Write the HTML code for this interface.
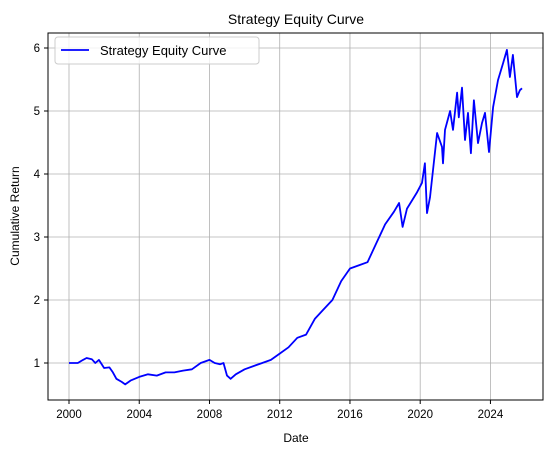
<!DOCTYPE html>
<html><head><meta charset="utf-8"><style>
body{margin:0;background:#fff;}
svg{display:block;font-family:"Liberation Sans","DejaVu Sans",sans-serif;}
</style></head><body>
<svg id="chart" width="554" height="455">
<g id="grid"></g>
<g id="ticks"></g>
<path id="line" fill="none" stroke="#0000ff" stroke-width="1.8" stroke-linejoin="round"></path>
<rect x="48" y="33" width="495" height="367" fill="none" stroke="#000" stroke-width="1"></rect>
<text x="296" y="24" text-anchor="middle" font-size="14">Strategy Equity Curve</text>
<text x="296" y="442" text-anchor="middle" font-size="12">Date</text>
<text transform="translate(19,216) rotate(-90)" text-anchor="middle" font-size="12">Cumulative Return</text>
<g>
<rect x="55" y="37" width="204" height="27" rx="3" fill="#fff" fill-opacity="0.8" stroke="#ccc"></rect>
<line x1="61" y1="50" x2="89" y2="50" stroke="#0000ff" stroke-width="1.8"></line>
<text x="100" y="55" font-size="13">Strategy Equity Curve</text>
</g>
</svg>
<script>
const years=[2000,2000.5,2000.8,2001,2001.3,2001.5,2001.7,2002,2002.3,2002.5,2002.7,2003,2003.2,2003.5,2004,2004.5,2005,2005.5,2006,2006.5,2007,2007.5,2008,2008.3,2008.6,2008.8,2009,2009.2,2009.5,2010,2010.5,2011,2011.5,2012,2012.5,2013,2013.5,2014,2014.5,2015,2015.5,2016,2016.5,2017,2017.5,2018,2018.5,2018.8,2019,2019.25,2019.8,2020.1,2020.27,2020.39,2020.56,2020.73,2020.96,2021.24,2021.3,2021.41,2021.7,2021.87,2022.1,2022.2,2022.38,2022.55,2022.72,2022.89,2023.06,2023.29,2023.52,2023.69,2023.92,2024.15,2024.43,2024.72,2024.94,2025.11,2025.28,2025.51,2025.68,2025.8];
const values=[1,1,1.05,1.08,1.06,1,1.05,0.92,0.93,0.85,0.75,0.7,0.66,0.72,0.78,0.82,0.8,0.85,0.85,0.88,0.9,1,1.05,1,0.98,1,0.8,0.75,0.82,0.9,0.95,1,1.05,1.15,1.25,1.4,1.45,1.7,1.85,2,2.3,2.5,2.55,2.6,2.9,3.2,3.4,3.54,3.16,3.45,3.7,3.86,4.17,3.38,3.63,4.06,4.65,4.43,4.17,4.7,5.0,4.7,5.29,4.9,5.37,4.54,4.97,4.33,5.17,4.49,4.81,4.97,4.35,5.06,5.49,5.76,5.97,5.54,5.89,5.22,5.33,5.36];
const xTicks=[2000,2004,2008,2012,2016,2020,2024];
const yTicks=[1,2,3,4,5,6];
const X=y=>69+(y-2000)*17.56;
const Y=v=>363-(v-1)*63;
const ns="http://www.w3.org/2000/svg";
const grid=document.getElementById('grid'),tk=document.getElementById('ticks');
function mk(tag,attrs,parent){const e=document.createElementNS(ns,tag);for(const k in attrs)e.setAttribute(k,attrs[k]);parent.appendChild(e);return e;}
xTicks.forEach(t=>{
 const gl=mk('line',{x1:X(t),x2:X(t),y1:33,y2:400,stroke:'#b0b0b0','stroke-width':0.8},grid);
 
 
 mk('line',{x1:X(t),x2:X(t),y1:400,y2:404,stroke:'#000'},tk);
 const tx=mk('text',{x:X(t),y:418,'text-anchor':'middle','font-size':11.5},tk);
 tx.textContent=t;
 
 
});
yTicks.forEach(t=>{
 const gl=mk('line',{x1:48,x2:543,y1:Y(t),y2:Y(t),stroke:'#b0b0b0','stroke-width':0.8},grid);
 
 
 mk('line',{x1:44,x2:48,y1:Y(t),y2:Y(t),stroke:'#000'},tk);
 const tx=mk('text',{x:40,y:Y(t)+4,'text-anchor':'end','font-size':11.5},tk);
 tx.textContent=t;
 
 
});
document.getElementById('line').setAttribute('d',years.map((y,i)=>(i?'L':'M')+X(y).toFixed(1)+','+Y(values[i]).toFixed(1)).join(''));
</script>
</body></html>
